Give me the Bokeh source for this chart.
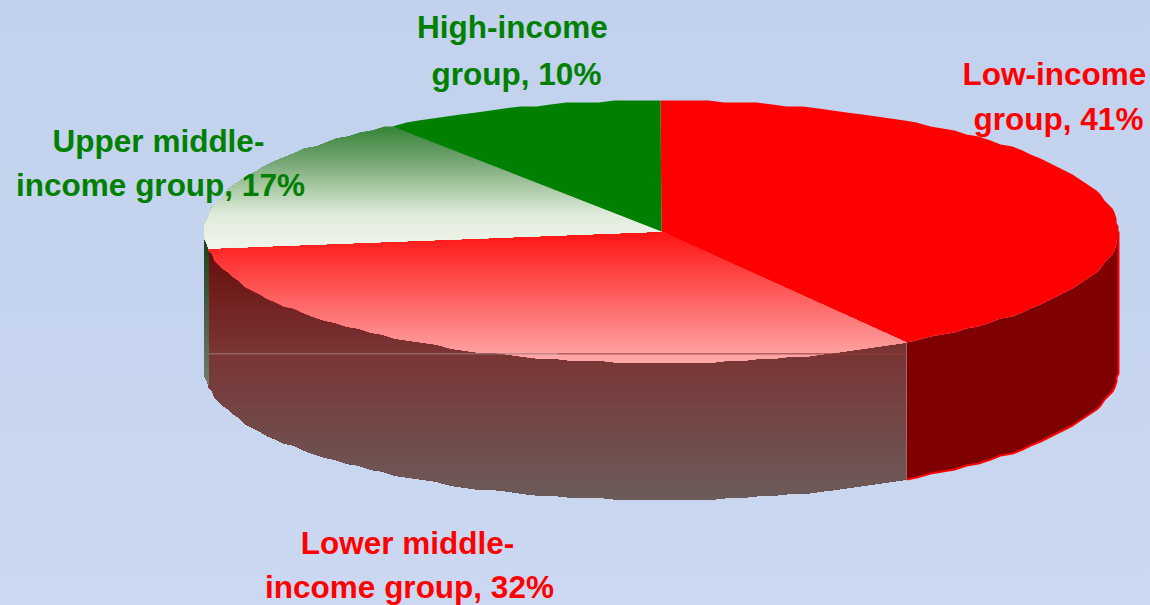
import numpy as np
from bokeh.plotting import figure
from bokeh.embed import file_html
from bokeh.resources import INLINE
from bokeh.core.properties import value
from bokeh.models import GlobalInlineStyleSheet

# ---- data ----
groups = ["Low-income group", "Lower middle-income group", "Upper middle-income group", "High-income group"]
shares = [41, 32, 17, 10]
label_lines = [["Low-income", "group, 41%"], ["Lower middle-", "income group, 32%"],
               ["Upper middle-", "income group, 17%"], ["High-income", "group, 10%"]]
label_colors = ["#ff0000", "#ff0000", "#008000", "#008000"]

# ---- layout (page pixels) ----
CX, CY, A, B, DEPTH = 661.0, 231.0, 457.0, 131.0, 137.0
WIDTH, HEIGHT = 1150, 605
label_x = [[1054, 1058], [407, 409], [158, 160], [512, 516]]
label_y = [[73, 118], [542, 586], [140, 184], [26, 73]]
FONT_SIZE = 31.5
SNAP = 2.0
ARC_STEP = 2.0

def arc(t0, t1, dy=0.0):
    t = np.arange(t0, t1, ARC_STEP)
    t = np.radians(np.append(t, t1))
    x = np.round((CX + A * np.sin(t)) / SNAP) * SNAP
    y = np.round((CY - B * np.cos(t)) / SNAP) * SNAP
    return x, y + dy

def top_face(t0, t1):
    x, y = arc(t0, t1)
    return np.r_[CX, x], np.r_[CY, y]

def side_face(t0, t1):
    x, y = arc(t0, t1)
    xb, yb = arc(t0, t1, DEPTH)
    return np.r_[x, xb[::-1]], np.r_[y, yb[::-1]]

def clip_below(x, y, y0):
    ox, oy = [], []
    n = len(x)
    for i in range(n):
        x1, y1, x2, y2 = x[i], y[i], x[(i + 1) % n], y[(i + 1) % n]
        if y1 >= y0:
            ox.append(x1); oy.append(y1)
        if (y1 >= y0) != (y2 >= y0):
            f = (y0 - y1) / (y2 - y1)
            ox.append(x1 + f * (x2 - x1)); oy.append(y0)
    return ox, oy

def gradient(p, x, y, stops, step=2.0):
    """Paint a polygon top to bottom, each band covering what is left below it."""
    sy = [s[0] for s in stops]
    xs, ys, cols = [], [], []
    for y0 in np.arange(y.min(), y.max(), step):
        ox, oy = clip_below(x, y, y0)
        if len(ox) < 3:
            continue
        rgb = [int(round(np.interp(y0 + step / 2, sy, [s[i] for s in stops]))) for i in (1, 2, 3)]
        xs.append(ox); ys.append(oy); cols.append("#%02x%02x%02x" % tuple(rgb))
    p.patches(xs, ys, fill_color=cols, line_color=None)

edges = np.cumsum([0] + shares) / sum(shares) * 360.0
t_low, t_lower, t_upper, t_high = edges[1], edges[2], edges[3], edges[4]

upper_stops = [(124, 50, 130, 50), (160, 115, 165, 115), (190, 175, 205, 170), (215, 225, 236, 220), (247, 240, 245, 235)]
lower_stops = [(232, 255, 20, 20), (362, 255, 172, 172)]
lower_side_stops = [(247, 105, 12, 12), (350, 122, 52, 52), (497, 108, 92, 90)]
upper_side_stops = [(243, 35, 65, 35), (381, 112, 122, 108)]

p = figure(width=WIDTH, height=HEIGHT, x_range=(0, WIDTH), y_range=(HEIGHT, 0),
           x_axis_type=None, y_axis_type=None, toolbar_location=None, output_backend="svg",
           min_border=0, outline_line_color=None, background_fill_color=None, border_fill_color=None,
           stylesheets=[GlobalInlineStyleSheet(css="html{height:100%;overflow:hidden;background:linear-gradient(#c2d2ee,#c5d4ee 50%,#ccd8f2)}")])
p.grid.visible = False

# side walls
x, y = side_face(90, t_low)
p.patch(x, y, fill_color="#7f0000", line_color=None)
xb, yb = arc(90, t_low, DEPTH)
p.line(np.r_[xb[0], xb], np.r_[CY, yb], line_color="#ff0000", line_width=2)
x, y = side_face(t_low, t_lower)
gradient(p, x, y, lower_side_stops)
x, y = side_face(t_lower, 270)
gradient(p, x, y, upper_side_stops)

# top faces
x, y = top_face(0, t_low)
p.patch(x, y, fill_color="#ff0000", line_color=None)
x, y = top_face(t_low, t_lower)
gradient(p, x, y, lower_stops)
x, y = top_face(t_lower, t_upper)
gradient(p, x, y, upper_stops)
x, y = top_face(t_upper, t_high)
p.patch(x, y, fill_color="#008000", line_color=None)

# thin seams in the wall
xa, ya = arc(t_low, t_low)
p.segment(xa[0], ya[0], xa[0], ya[0] + DEPTH, line_color="#a06a6a", line_width=1)
xl, yl = arc(t_lower, t_lower)
seam_y = CY + B * 0.934
p.segment(xl[0], seam_y, xl[0] + (xa[0] - xl[0]) * 0.5, seam_y, line_color="#a07c7c", line_width=1)
p.segment(xl[0] + (xa[0] - xl[0]) * 0.5, seam_y, xa[0], seam_y, line_color="#903c3c", line_width=1)

# labels
for lines, lx, ly, col in zip(label_lines, label_x, label_y, label_colors):
    p.text(x=lx, y=ly, text=lines, text_color=col, text_align="center", text_baseline="alphabetic",
           text_font=value("Liberation Sans"), text_font_style="bold", text_font_size=f"{FONT_SIZE}px")

open("out.html", "w").write(file_html(p, INLINE))
